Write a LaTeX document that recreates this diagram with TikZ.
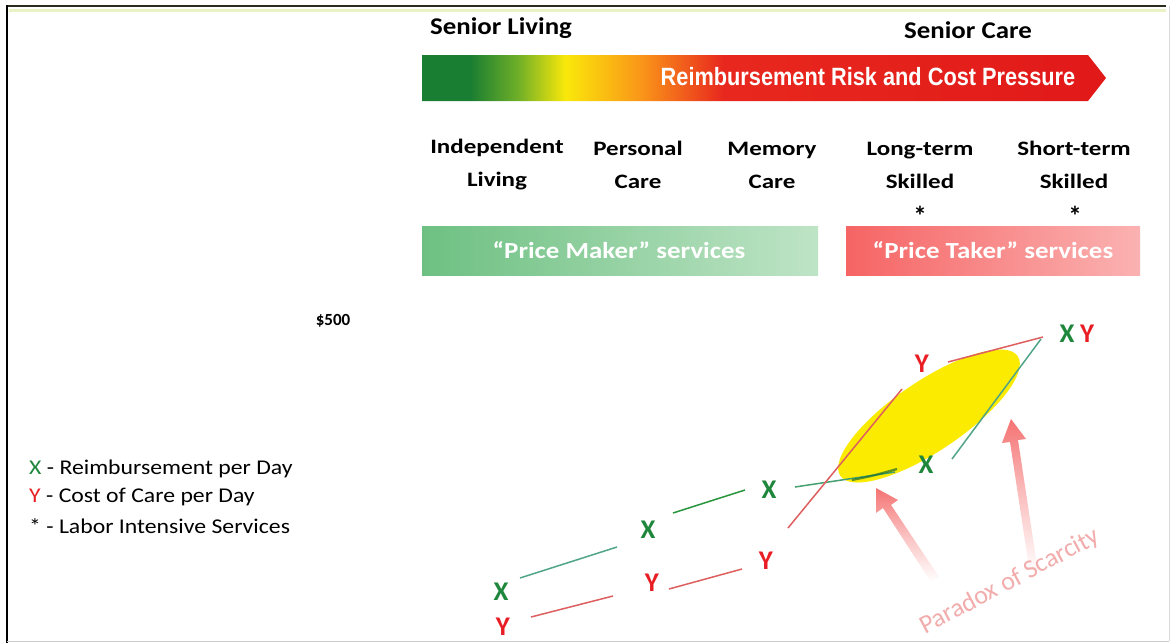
\documentclass[tikz,border=0pt]{standalone}
\usepackage{fontspec}
\setmainfont{Carlito}
\newfontfamily\arialfont{Liberation Sans}
\definecolor{xgreen}{RGB}{30,135,60}
\definecolor{yred}{RGB}{232,30,36}
\definecolor{gA}{RGB}{25,125,50}
\definecolor{gB}{RGB}{110,175,40}
\definecolor{yel}{RGB}{250,232,10}
\definecolor{ora}{RGB}{250,150,25}
\definecolor{rdA}{RGB}{232,40,30}
\definecolor{rdB}{RGB}{225,25,25}
\definecolor{pmA}{RGB}{110,192,130}
\definecolor{pmB}{RGB}{190,228,198}
\definecolor{ptA}{RGB}{246,100,100}
\definecolor{ptB}{RGB}{251,178,178}
\definecolor{frameC}{RGB}{40,45,30}
\definecolor{tintC}{RGB}{232,242,196}
\definecolor{tealL}{RGB}{80,165,135}
\definecolor{greenL}{RGB}{40,150,60}
\definecolor{redL}{RGB}{222,95,95}
\definecolor{ellY}{RGB}{250,235,0}
\definecolor{pinkA}{RGB}{245,115,115}
\definecolor{pinkT}{RGB}{242,172,172}
\pgfdeclarehorizontalshading{riskshade}{100bp}{color(0bp)=(gA); color(25bp)=(gA); color(28.5bp)=(gA); color(32bp)=(gB); color(35.5bp)=(yel); color(41bp)=(ora); color(47bp)=(rdA); color(75bp)=(rdB); color(100bp)=(rdB)}
\tikzset{
  head/.style={font=\bfseries\fontsize{24}{26}\selectfont, inner sep=0pt, xscale=1.12},
  cat/.style={font=\bfseries\fontsize{20.5}{33}\selectfont, align=center, inner sep=0pt, xscale=1.22},
  boxtext/.style={font=\bfseries\fontsize{23}{25}\selectfont, text=white, inner sep=0pt, xscale=1.17},
  xlab/.style={font=\bfseries\fontsize{27}{29}\selectfont, text=xgreen, inner sep=0pt},
  ylab/.style={font=\bfseries\fontsize{27}{29}\selectfont, text=yred, inner sep=0pt},
  legend/.style={font=\fontsize{21}{23}\selectfont, anchor=west, inner sep=0pt, xscale=1.13},
  seg/.style={line width=1.5pt},
  star/.style={font=\bfseries\fontsize{27}{29}\selectfont, inner sep=0pt},
}
\begin{document}
\begin{tikzpicture}[x=1pt,y=-1pt]
\useasboundingbox (0,0) rectangle (1172,643);
\fill[white] (0,0) rectangle (1172,643);
% frame
\draw[tintC, line width=3pt] (9,10) -- (1166,10);
\draw[frameC, line width=2.5pt] (7,6) -- (1166,6);
\draw[black, line width=2pt] (7,5) -- (7,643);
\draw[black!20, line width=1pt] (7,641) -- (1169,641);
\draw[black!15, line width=1pt] (1169,6) -- (1169,641);
% headings
\node[head] (sl) at (501,28) {Senior Living};
\node[head] (sc) at (968,30) {Senior Care};
% gradient arrow
\shade[shading=riskshade] (422,55) -- (1088,55) -- (1106,78) -- (1088,101) -- (422,101) -- cycle;
\node[text=white, inner sep=0pt, font=\arialfont\bfseries\fontsize{25}{27}\selectfont] (risk) at (868,77) {\scalebox{0.87}[1]{Reimbursement Risk and Cost Pressure}};
% categories
\node[cat] (il) at (497,165) {Independent\\Living};
\node[cat] (pc) at (638,165) {Personal\\Care};
\node[cat] (mc) at (772,165) {Memory\\Care};
\node[cat] (lt) at (920,165) {Long-term\\Skilled};
\node[cat] (st) at (1074,165) {Short-term\\Skilled};
\node[star] (a1) at (920,216) {*};
\node[star] (a2) at (1075,216) {*};
% price boxes
\shade[left color=pmA, right color=pmB] (422,226) rectangle (818,275);
\node[boxtext] (pm) at (619,250) {\textquotedblleft Price Maker\textquotedblright\ services};
\shade[left color=ptA, right color=ptB] (846,226) rectangle (1140,275);
\node[boxtext] (pt) at (993,250) {\textquotedblleft Price Taker\textquotedblright\ services};
% axis label
\node[font=\bfseries\fontsize{17}{19}\selectfont, inner sep=0pt] (p500) at (333,321) {\$500};
% legend
\node[legend] (l1) at (29,469) {\textcolor{xgreen}{X} - Reimbursement per Day};
\node[legend] (l2) at (29,497) {\textcolor{yred}{Y} - Cost of Care per Day};
\node[legend] (l3) at (29,526) {* - Labor Intensive Services};
% ellipse
\fill[ellY] (929,416) ellipse[x radius=107, y radius=35, rotate=34];
% segment end points
\coordinate (a0) at (520,578); \coordinate (a1e) at (617,547);
\coordinate (b0) at (531,617); \coordinate (b1) at (613,596);
\coordinate (c0) at (673,513); \coordinate (c1) at (745,490);
\coordinate (d0) at (669,589); \coordinate (d1) at (742,569);
\coordinate (e0) at (795,487); \coordinate (e1) at (895,472);
\coordinate (f0) at (788,528); \coordinate (f1) at (902,389);
\coordinate (g0) at (948,362); \coordinate (g1) at (1043,337);
\coordinate (h0) at (952,459); \coordinate (h1) at (1041,339);
\draw[seg, tealL] (a0) -- (a1e);
\draw[seg, redL] (b0) -- (b1);
\draw[seg, greenL] (c0) -- (c1);
\draw[seg, redL] (d0) -- (d1);
\draw[seg, tealL!70!greenL] (e0) -- (e1);
\draw[line width=2.2pt, xgreen!80!black, opacity=0.7] (852,480) .. controls (872,476) .. (897,469);
\draw[seg, redL] (f0) -- (f1);
\draw[seg, redL] (g0) -- (g1);
\draw[seg, tealL] (h0) -- (h1);
% labels
\node[xlab] (x1) at (501,592) {X};
\node[ylab] (y1) at (503,627) {Y};
\node[xlab] (x2) at (648,530) {X};
\node[ylab] (y2) at (652,583) {Y};
\node[xlab] (x3) at (769,490) {X};
\node[ylab] (y3) at (766,561) {Y};
\node[ylab] (y4) at (922,364) {Y};
\node[xlab] (x4) at (926,465) {X};
\node[xlab] (x5) at (1067,334) {X};
\node[ylab] (y5) at (1087,334) {Y};
% pink arrows
\shade[top color=pinkA, bottom color=white, middle color=pinkA!45]
  (939,577) -- (891,505) -- (898,500) -- (876,488) -- (876,513) -- (883,508) -- (931,582) -- cycle;
\shade[top color=pinkA, bottom color=white, middle color=pinkA!45]
  (1038,572) -- (1018,440) -- (1026,439) -- (1011,419) -- (1002,443) -- (1010,442) -- (1030,574) -- cycle;
\node[text=pinkT, rotate=28, font=\fontsize{26}{28}\selectfont, inner sep=0pt] (pos) at (1010,582) {Paradox of Scarcity};
\end{tikzpicture}
\end{document}
